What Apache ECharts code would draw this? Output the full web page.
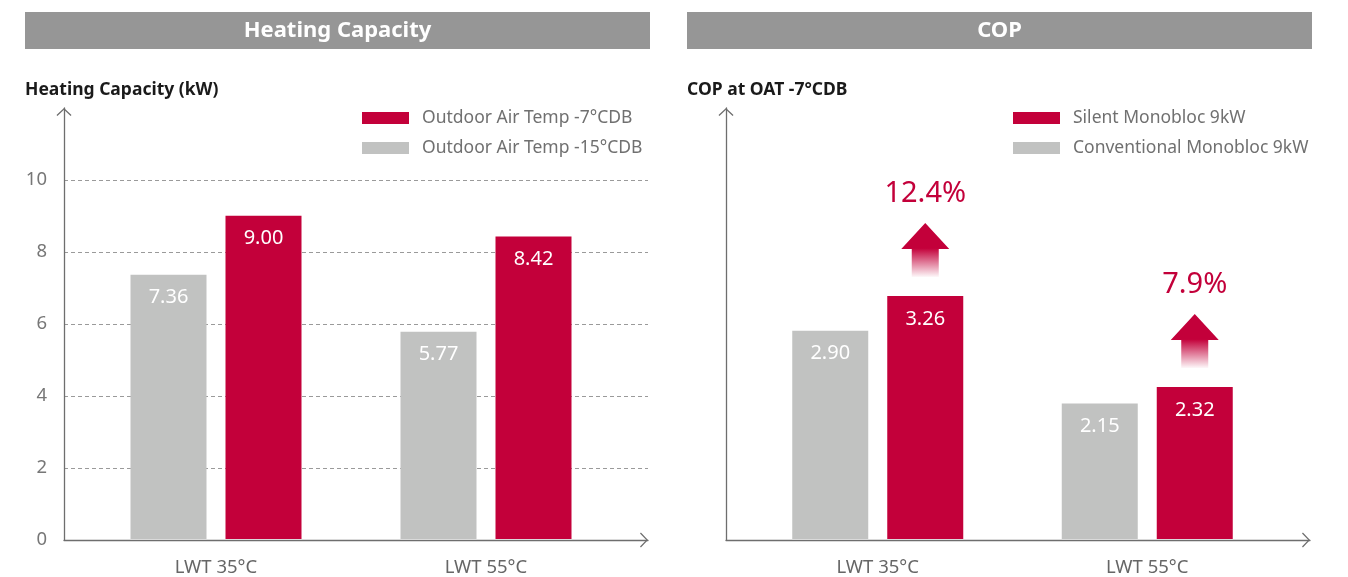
<!DOCTYPE html>
<html>
<head>
<meta charset="utf-8">
<script src="https://cdn.jsdelivr.net/npm/echarts@6/dist/echarts.min.js"></script>
<style>
  html, body { margin: 0; padding: 0; background: #fff; }
  #chart { width: 1348px; height: 577px; }
</style>
</head>
<body>
<div id="chart"></div>
<script>
// Heating capacity (kW) at two leaving water temperatures
const categories = ['LWT 35°C', 'LWT 55°C'];
const capacityMinus15 = [7.36, 5.77];
const capacityMinus7 = [9.00, 8.42];

// COP at outdoor air temperature -7°C
const copConventional = [2.90, 2.15];
const copSilent = [3.26, 2.32];
const copGain = ['12.4%', '7.9%'];

const seriesNames = {
  hcMinus7: 'Outdoor Air Temp -7°CDB',
  hcMinus15: 'Outdoor Air Temp -15°CDB',
  silent: 'Silent Monobloc 9kW',
  conventional: 'Conventional Monobloc 9kW'
};

const RED = '#c3003a';
const GREY = '#c1c2c1';
const FONT = 'Noto Sans';
const BAR_W = 76;
const BAR_GAP = 19;

const chart = echarts.init(document.getElementById('chart'), null, { renderer: 'canvas' });

// open chevron used as the arrow head of both axes
const chevron = 'path://M7.5,0 L15,7.1 L14.1,8 L7.5,1.7 L0.9,8 L0,7.1 Z';

function arrowAxis(gridIndex) {
  return {
    type: 'value', gridIndex,
    axisLine: {
      show: true,
      lineStyle: { color: '#6e6e6e', width: 1.3 },
      symbol: ['none', chevron],
      symbolSize: [15, 8],
      symbolOffset: [0, -4]
    },
    axisTick: { show: false },
    axisLabel: { show: false },
    splitLine: { show: false }
  };
}

function barLabel() {
  return {
    show: true, position: 'insideTop', distance: 13,
    color: '#fff', fontSize: 20, fontFamily: FONT,
    formatter: p => p.value.toFixed(2)
  };
}

function header(x, text) {
  return {
    type: 'group', left: x, top: 12,
    children: [
      { type: 'rect', shape: { x: 0, y: 0, width: 625, height: 37 }, style: { fill: '#969696' } },
      { type: 'text', x: 312.5, y: 18.5,
        style: { text, fill: '#fff', font: 'bold 22px "Noto Sans"', align: 'center', verticalAlign: 'middle' } }
    ]
  };
}

function legend(left, names) {
  return {
    left, top: 109, padding: 0, orient: 'vertical', icon: 'rect',
    itemWidth: 47, itemHeight: 12, itemGap: 12, selectedMode: false,
    data: names,
    textStyle: { fontSize: 17.5, color: '#707070', fontFamily: FONT, padding: [0, 0, 0, 8] }
  };
}

const categoryAxisLabel = { margin: 19, fontSize: 18.5, color: '#666', fontFamily: FONT };
const titleStyle = { fontSize: 17.5, fontWeight: 'bold', color: '#1a1a1a', fontFamily: FONT };

const option = {
  backgroundColor: '#fff',
  animation: false,
  textStyle: { fontFamily: FONT },
  graphic: [header(25, 'Heating Capacity'), header(687, 'COP')],
  title: [
    { text: 'Heating Capacity (kW)', left: 25, top: 81, padding: 0, textStyle: titleStyle },
    { text: 'COP at OAT -7°CDB', left: 687, top: 81, padding: 0, textStyle: titleStyle }
  ],
  legend: [
    legend(362, [seriesNames.hcMinus7, seriesNames.hcMinus15]),
    legend(1013, [seriesNames.silent, seriesNames.conventional])
  ],
  grid: [
    { left: 81, top: 108, width: 540, height: 432 },   // capacity bars
    { left: 64, top: 108, width: 584, height: 432 },   // capacity axes
    { left: 743, top: 108, width: 539, height: 432 },  // COP bars
    { left: 726, top: 108, width: 584, height: 432 }   // COP axes
  ],
  xAxis: [
    { type: 'category', gridIndex: 0, data: categories,
      axisLine: { show: false }, axisTick: { show: false }, axisLabel: categoryAxisLabel },
    Object.assign(arrowAxis(1), { min: 0, max: 1 }),
    { type: 'category', gridIndex: 2, data: categories,
      axisLine: { show: false }, axisTick: { show: false }, axisLabel: categoryAxisLabel },
    Object.assign(arrowAxis(3), { min: 0, max: 1 })
  ],
  yAxis: [
    { type: 'value', gridIndex: 0, min: 0, max: 12, show: false },
    Object.assign(arrowAxis(1), {
      min: 0, max: 12, interval: 2,
      axisLabel: { show: true, showMaxLabel: false, margin: 17, fontSize: 18.5, color: '#777', fontFamily: FONT },
      splitLine: { show: true, showMinLine: false, showMaxLine: false,
        lineStyle: { color: '#9a9a9a', width: 1, type: [4, 3] } }
    }),
    { type: 'value', gridIndex: 2, min: 0.75, max: 5.2, show: false },
    Object.assign(arrowAxis(3), { min: 0, max: 1 })
  ],
  series: [
    { name: seriesNames.hcMinus15, type: 'bar', xAxisIndex: 0, yAxisIndex: 0,
      data: capacityMinus15, barWidth: BAR_W, barGap: (BAR_GAP / BAR_W * 100) + '%',
      itemStyle: { color: GREY }, label: barLabel() },
    { name: seriesNames.hcMinus7, type: 'bar', xAxisIndex: 0, yAxisIndex: 0,
      data: capacityMinus7, barWidth: BAR_W, barGap: (BAR_GAP / BAR_W * 100) + '%',
      itemStyle: { color: RED }, label: barLabel() },
    { name: seriesNames.conventional, type: 'bar', xAxisIndex: 2, yAxisIndex: 2,
      data: copConventional, barWidth: BAR_W, barGap: (BAR_GAP / BAR_W * 100) + '%',
      itemStyle: { color: GREY }, label: barLabel() },
    { name: seriesNames.silent, type: 'bar', xAxisIndex: 2, yAxisIndex: 2,
      data: copSilent, barWidth: BAR_W, barGap: (BAR_GAP / BAR_W * 100) + '%',
      itemStyle: { color: RED }, label: barLabel() },
    // gain arrows above the silent-model bars
    { type: 'custom', xAxisIndex: 2, yAxisIndex: 2, silent: true, z: 5,
      data: copSilent.map((v, i) => [i, v]),
      renderItem: (params, api) => {
        const pt = api.coord([api.value(0), api.value(1)]);
        const cx = pt[0] + (BAR_W + BAR_GAP) / 2;
        const top = pt[1];
        const tipY = top - 73, headY = top - 47, baseY = top - 19;
        return {
          type: 'group',
          children: [
            { type: 'polygon',
              shape: { points: [
                [cx, tipY], [cx + 24, headY], [cx + 13.5, headY], [cx + 13.5, baseY],
                [cx - 13.5, baseY], [cx - 13.5, headY], [cx - 24, headY]
              ] },
              style: { fill: new echarts.graphic.LinearGradient(0, 0, 0, 1, [
                { offset: 0, color: 'rgba(195,0,58,1)' },
                { offset: 0.47, color: 'rgba(195,0,58,1)' },
                { offset: 0.55, color: 'rgba(195,0,58,0.85)' },
                { offset: 1, color: 'rgba(195,0,58,0.03)' }
              ]) } },
            { type: 'text', x: cx, y: top - 102,
              style: { text: copGain[params.dataIndex], fill: RED,
                font: '29px "Noto Sans"', align: 'center', verticalAlign: 'middle' } }
          ]
        };
      } }
  ]
};

chart.setOption(option);
</script>
</body>
</html>
